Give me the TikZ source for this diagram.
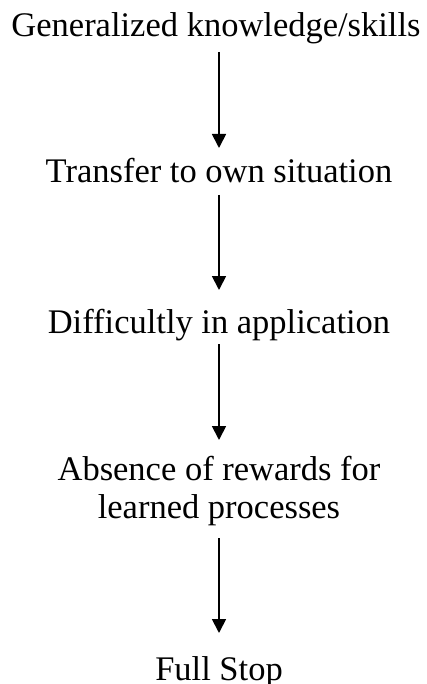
\documentclass[tikz,border=0pt]{standalone}
\usepackage{fontspec}
\setmainfont{Liberation Serif}
\usetikzlibrary{arrows.meta}

\begin{document}
\begin{tikzpicture}[x=1pt,y=1pt,>={Triangle[length=14pt,width=14pt]},line width=1.8pt]
\tikzset{StepText/.style = {anchor=base,inner sep=0pt,align=center,
                            font=\fontsize{34.5}{38}\selectfont}}
\useasboundingbox (0,0) rectangle (427,-684);

\node[StepText] (gen)        at (216,-37)  {Generalized knowledge/skills};
\node[StepText] (transfer)   at (219,-183) {Transfer to own situation};
\node[StepText] (difficulty) at (219,-333) {Difficultly in application};
\node[StepText] (absence)    at (219,-518) {Absence of rewards for\\learned processes};
\node[StepText] (stop)       at (219,-680) {Full Stop};

\draw[->] ([xshift=3pt,yshift=-15pt]gen.base) -- ([yshift=35pt]transfer.base);
\draw[->] ([yshift=-12pt]transfer.base)   -- ([yshift=43pt]difficulty.base);
\draw[->] ([yshift=-11pt]difficulty.base) -- ([yshift=78pt]absence.base);
\draw[->] ([yshift=-20pt]absence.base)    -- ([yshift=47pt]stop.base);
\end{tikzpicture}
\end{document}
